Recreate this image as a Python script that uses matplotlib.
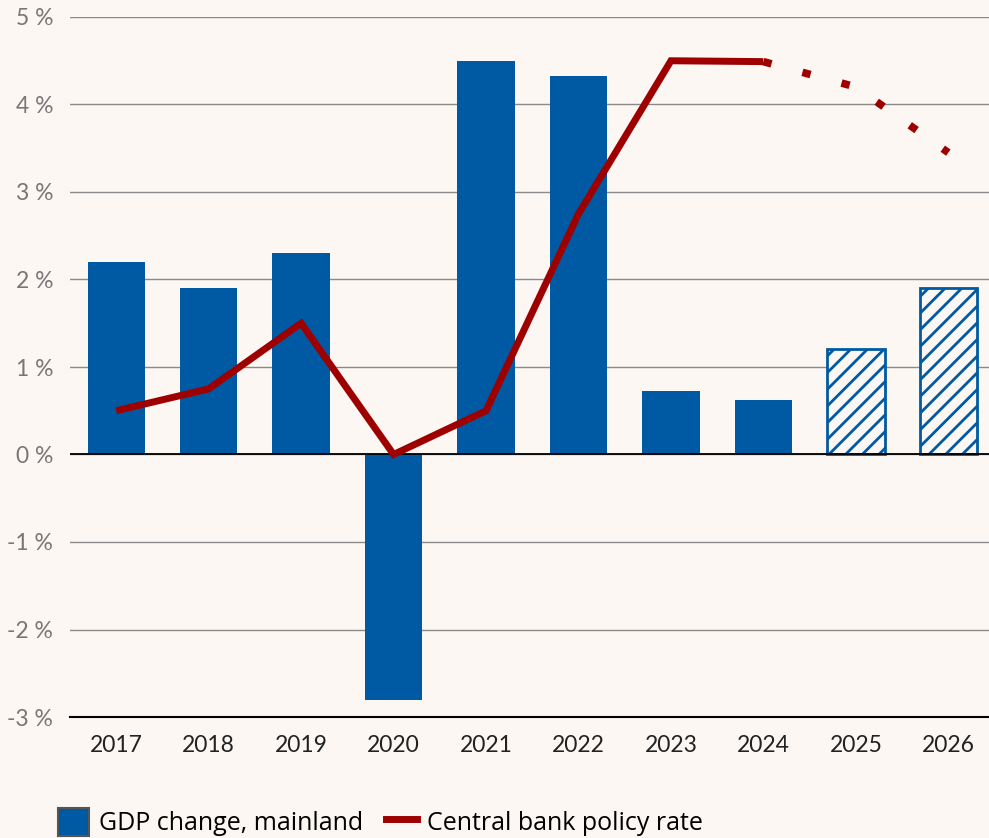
import matplotlib
matplotlib.use("Agg")
import matplotlib.pyplot as plt
from matplotlib.patches import Patch
from matplotlib.lines import Line2D
import numpy as np

years = ["2017", "2018", "2019", "2020", "2021", "2022", "2023", "2024", "2025", "2026"]
gdp = [2.2, 1.9, 2.3, -2.8, 4.5, 4.33, 0.72, 0.62, 1.2, 1.9]
forecast = [False, False, False, False, False, False, False, False, True, True]
rate_actual = [0.5, 0.75, 1.5, 0.0, 0.5, 2.75, 4.5, 4.49]
rate_forecast = [4.49, 4.2, 3.45]
yticks = [-3, -2, -1, 0, 1, 2, 3, 4, 5]
ytick_labels = ["-3 %", "-2 %", "-1 %", "0 %", "1 %", "2 %", "3 %", "4 %", "5 %"]
legend_labels = ["GDP change, mainland", "Central bank policy rate"]

BG = "#fcf7f3"
BLUE = "#005aa3"
RED = "#9e0000"

plt.rcParams['hatch.linewidth'] = 2.0

fig = plt.figure(figsize=(9.89, 8.38), dpi=100, facecolor=BG)
ax = fig.add_axes([70/989, 121/838, 919/989, 700/838])
ax.set_facecolor(BG)

x = np.arange(len(years))
for xi, v, f in zip(x, gdp, forecast):
    if f:
        ax.bar(xi, v, width=0.62, facecolor=BG, edgecolor=BLUE, hatch='//', linewidth=2, zorder=2)
    else:
        ax.bar(xi, v, width=0.62, color=BLUE, linewidth=0, zorder=2)

xa = x[:len(rate_actual)]
ax.plot(xa, rate_actual, color=RED, lw=5, zorder=3, solid_joinstyle='miter', solid_capstyle='butt')
xf = x[len(rate_actual)-1:]
ax.plot(xf, rate_forecast, color=RED, lw=5.5, zorder=3, linestyle=(0, (1.1, 4.2)), dash_capstyle='butt')

ax.axhline(0, color='black', lw=1.3, zorder=2.5)

ax.set_xlim(-0.5, 9.44)
ax.set_ylim(-3, 5)
ax.set_yticks(yticks)
ax.set_yticklabels(ytick_labels, fontfamily='Lato', fontsize=16.5, color='#777777')
ax.set_xticks(x)
ax.set_xticklabels(years, fontfamily='Lato', fontsize=16.5, color='#222222')
ax.tick_params(axis='y', length=0, pad=12)
ax.tick_params(axis='x', length=0, pad=13)
ax.grid(axis='y', color='#8a8a8a', lw=1, zorder=1)
ax.set_axisbelow(True)
for s in ['top', 'right', 'left']:
    ax.spines[s].set_visible(False)
ax.spines['bottom'].set_color('black')
ax.spines['bottom'].set_linewidth(1.5)
ax.spines['bottom'].set_zorder(4)

handles = [Patch(facecolor=BLUE, edgecolor='#555555', linewidth=1.5),
           Line2D([0], [0], color=RED, lw=5)]
fig.legend(handles, legend_labels, loc='lower left', bbox_to_anchor=(58/989, 0.002),
           frameon=False, prop={'family': 'Open Sans', 'size': 18},
           ncol=2, handlelength=1.25, handleheight=1.3, handletextpad=0.4,
           columnspacing=0.9, borderpad=0, borderaxespad=0)

fig.savefig("out.png", dpi=100, facecolor=BG)
